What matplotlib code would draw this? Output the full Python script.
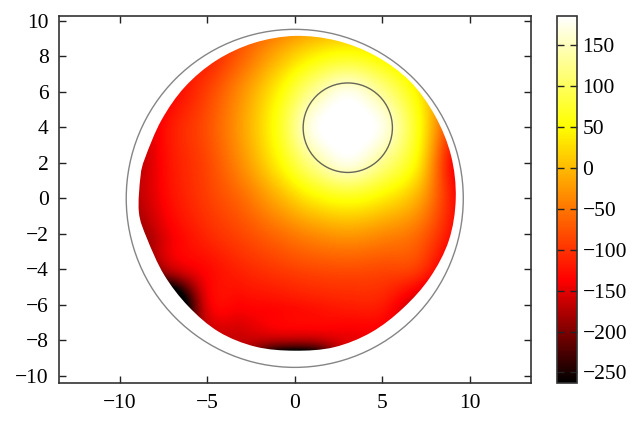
import numpy as np
import matplotlib
matplotlib.use("Agg")
import matplotlib.pyplot as plt
from matplotlib.colors import LinearSegmentedColormap
from matplotlib.patches import Ellipse, PathPatch, Rectangle
from matplotlib.path import Path

plt.rcParams["font.family"] = ["Liberation Serif", "DejaVu Sans"]

# field at coarse nodes
grid_x = [-11, -9, -7, -5, -3, -1, 1, 3, 5, 7, 9, 11]
grid_y = [10, 8, 6, 4, 2, 0, -2, -4, -6, -8, -10]
field = [
    [-165, -146, -128, -120, -90, -60, -34, -22, -34, -60, -90, -130],
    [-170, -160, -135, -115, -65, -8, 40, 62, 40, -8, -58, -110],
    [-180, -170, -135, -90, -30, 42, 125, 172, 125, 42, -70, -150],
    [-190, -170, -118, -78, -18, 62, 172, 195, 172, 62, -100, -200],
    [-190, -170, -120, -85, -30, 42, 125, 172, 125, 42, -130, -200],
    [-190, -170, -125, -92, -58, -8, 40, 62, 40, -8, -120, -220],
    [-200, -190, -140, -108, -84, -58, -34, -22, -34, -58, -130, -220],
    [-230, -230, -165, -132, -110, -95, -84, -80, -84, -95, -170, -250],
    [-300, -400, -340, -150, -135, -130, -122, -115, -118, -170, -220, -260],
    [-300, -300, -260, -180, -165, -175, -175, -150, -155, -200, -240, -260],
    [-300, -300, -280, -220, -190, -480, -480, -180, -200, -240, -260, -260],
]

# edge of the coloured region: radius at each angle (degrees)
edge_theta = [90, 75, 60, 45, 30, 15, 0, -15, -30, -45, -60, -75, -90, -105, -120, -135, -150,
              -165, -175, 172, 165, 150, 135, 120, 105]
edge_r = [9.15, 9.2, 9.26, 9.32, 9.27, 9.25, 9.2, 9.12, 8.92, 8.75, 8.72, 8.68, 8.58, 8.65, 8.68, 8.6, 8.62,
          8.74, 8.94, 8.9, 8.85, 8.8, 8.88, 8.97, 9.06]

outer_circle = (0, 0, 9.63, 9.52)
inner_circle = (3.03, 3.98, 2.55, 2.52)
x_ticks = [-10, -5, 0, 5, 10]
y_ticks = [-10, -8, -6, -4, -2, 0, 2, 4, 6, 8, 10]
bar_ticks = [-250, -200, -150, -100, -50, 0, 50, 100, 150]
vmin, vmax = -263, 186

W, H = 642, 424
hot = LinearSegmentedColormap.from_list(
    "hot2", [(0, "#000000"), (0.28, "#ff0000"), (0.70, "#ffff00"), (1, "#ffffff")]
)


def minus(v):
    return str(v).replace("-", "\u2212")


def smooth_closed(thetas, radii):
    # catmull-rom through the edge points, as bezier segments
    t = np.radians(thetas)
    p = np.column_stack([radii * np.cos(t), radii * np.sin(t)])
    n = len(p)
    verts = [p[0]]
    codes = [Path.MOVETO]
    for i in range(n):
        p0, p1, p2, p3 = p[i - 1], p[i], p[(i + 1) % n], p[(i + 2) % n]
        verts += [p1 + (p2 - p0) / 6, p2 - (p3 - p1) / 6, p2]
        codes += [Path.CURVE4] * 3
    return Path(verts, codes)


fig = plt.figure(figsize=(W / 100, H / 100), dpi=100)
ax = fig.add_axes([58.5 / W, 1 - 383 / H, (531 - 58.5) / W, (383 - 15.5) / H])
im = ax.imshow(
    field,
    extent=[grid_x[0] - 1, grid_x[-1] + 1, grid_y[-1] - 1, grid_y[0] + 1],
    cmap=hot,
    vmin=vmin,
    vmax=vmax,
    interpolation="catrom",
    aspect="auto",
    origin="upper",
)
edge = PathPatch(smooth_closed(edge_theta, np.array(edge_r)), transform=ax.transData, fc="none", ec="none")
ax.add_patch(edge)
im.set_clip_path(edge)

for cx, cy, rx, ry, col in [(*outer_circle, "#858585"), (*inner_circle, "#666658")]:
    ax.add_patch(Ellipse((cx, cy), 2 * rx, 2 * ry, fill=False, ec=col, lw=1.0))

ax.set_xlim(-13.5, 13.5)
ax.set_ylim(-10.4, 10.3)
ax.set_xticks(x_ticks, [minus(v) for v in x_ticks])
ax.set_yticks(y_ticks, [minus(v) for v in y_ticks])
ax.tick_params(direction="in", top=True, right=True, length=5, width=1, labelsize=15.5, color="#222222")
ax.tick_params(axis="x", pad=8)
ax.tick_params(axis="y", pad=7)
for s in ax.spines.values():
    s.set_linewidth(1.2)
    s.set_color("#333333")

cax = fig.add_axes([556.5 / W, 1 - 383 / H, (577 - 556.5) / W, (383 - 16) / H])
cb = fig.colorbar(im, cax=cax)
cb.set_ticks(bar_ticks, labels=[minus(v) for v in bar_ticks])
cax.tick_params(direction="in", left=True, right=True, length=5, width=1, labelsize=15.5, pad=4, color="#222222")
cb.outline.set_linewidth(1.2)
cb.outline.set_edgecolor("#333333")

# bottom of the x labels is cut off in the reference
fig.add_artist(Rectangle((0, 0), 1, (H - 409.5) / H, transform=fig.transFigure, fc="white", ec="none", zorder=10))

fig.savefig("out.png", dpi=100)
